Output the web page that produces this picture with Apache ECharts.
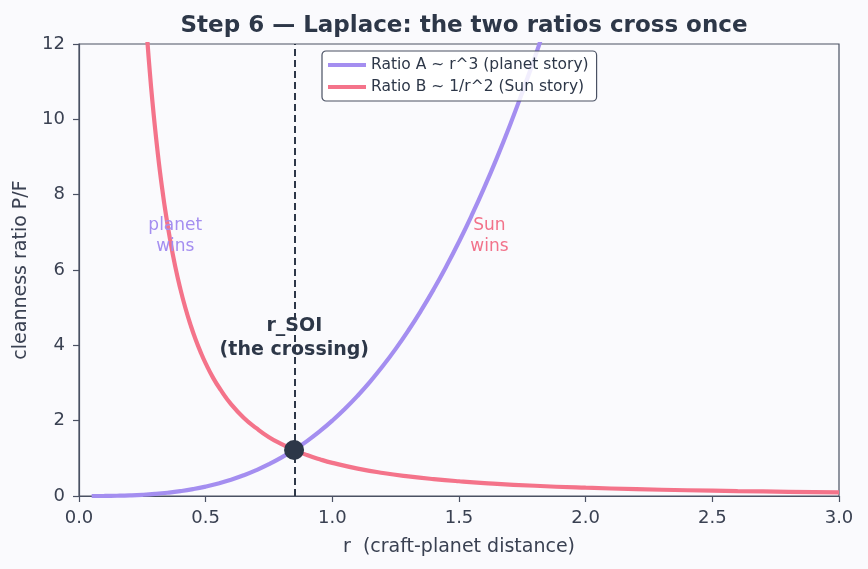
<!DOCTYPE html>
<html><head><meta charset="utf-8">
<script src="https://cdn.jsdelivr.net/npm/echarts@6/dist/echarts.min.js"></script>
<style>html,body{margin:0;padding:0;background:#fafafd;}#c{width:868px;height:569px;}</style>
</head><body><div id="c"></div>
<script>
// Ratio A ~ r^3 (planet story)
const rA = [0.05,0.1,0.15,0.2,0.25,0.3,0.35,0.4,0.45,0.5,0.55,0.6,0.65,0.7,0.75,0.8,0.85,0.9,0.95,1.0,1.05,1.1,1.15,1.2,1.25,1.3,1.35,1.4,1.45,1.5,1.55,1.6,1.65,1.7,1.75,1.8,1.85];
const ratioA = [0.0003,0.002,0.007,0.016,0.031,0.054,0.086,0.128,0.182,0.25,0.333,0.432,0.549,0.686,0.844,1.024,1.228,1.458,1.715,2.0,2.315,2.662,3.042,3.456,3.906,4.394,4.921,5.488,6.097,6.75,7.448,8.192,8.984,9.826,10.72,11.66,12.66];
// Ratio B ~ 1/r^2 (Sun story)
const rB = [0.25,0.26,0.27,0.28,0.29,0.3,0.31,0.32,0.33,0.34,0.36,0.38,0.4,0.42,0.44,0.46,0.48,0.5,0.53,0.56,0.6,0.65,0.7,0.75,0.8,0.85,0.9,0.95,1.0,1.1,1.2,1.3,1.4,1.5,1.6,1.8,2.0,2.2,2.4,2.6,2.8,3.0];
const ratioB = [14.08,13.02,12.07,11.22,10.46,9.78,9.16,8.59,8.08,7.61,6.79,6.09,5.50,4.99,4.55,4.16,3.82,3.52,3.13,2.81,2.44,2.08,1.80,1.56,1.375,1.218,1.086,0.975,0.88,0.727,0.611,0.521,0.449,0.391,0.344,0.272,0.22,0.182,0.153,0.130,0.112,0.098];
const crossing = [0.849, 1.222];
const xTicks = {min:0, max:3, interval:0.5};
const yTicks = {min:0, max:12, interval:2};
const notes = [
  {x:0.38, y:6.9, text:'planet\nwins', color:'#a48ef0', bold:false},
  {x:1.62, y:6.9, text:'Sun\nwins', color:'#f2728a', bold:false},
  {x:0.85, y:4.2, text:'r_SOI\n(the crossing)', color:'#2d3748', bold:true}
];

const FONT = 'DejaVu Sans';
const DARK = '#2d3748';
const AXIS = '#4a5163';
const TXT = '#3a4152';
const PURPLE = '#a48ef0';
const RED = '#f4738a';

const chart = echarts.init(document.getElementById('c'));
chart.setOption({
  backgroundColor: '#fafafd',
  animation: false,
  textStyle: {fontFamily: FONT},
  title: {
    text: 'Step 6 — Laplace: the two ratios cross once',
    left: 459, top: 10, textAlign: 'center',
    textStyle: {fontFamily: FONT, fontSize: 23, fontWeight: 'bold', color: DARK}
  },
  grid: {left: 79, right: 29, top: 44, bottom: 73, show: true, borderColor: AXIS, borderWidth: 1.2, backgroundColor: 'transparent'},
  legend: {
    orient: 'vertical', left: 322, top: 51,
    padding: [6, 8, 6, 6], itemGap: 6,
    itemWidth: 38, itemHeight: 4, icon: 'rect',
    borderColor: AXIS, borderWidth: 1.2, borderRadius: 4,
    backgroundColor: 'rgba(255,255,255,0.85)',
    textStyle: {fontFamily: FONT, fontSize: 15.5, color: DARK},
    data: ['Ratio A ~ r^3 (planet story)', 'Ratio B ~ 1/r^2 (Sun story)']
  },
  xAxis: {
    type: 'value', min: xTicks.min, max: xTicks.max, interval: xTicks.interval,
    name: 'r  (craft-planet distance)', nameLocation: 'middle', nameGap: 42,
    nameTextStyle: {fontFamily: FONT, fontSize: 19, color: TXT},
    axisLine: {show: true, onZero: false, lineStyle: {color: AXIS, width: 1.2}},
    axisTick: {show: true, length: 6, lineStyle: {color: AXIS, width: 1.2}},
    axisLabel: {fontFamily: FONT, fontSize: 18, color: TXT, margin: 13, formatter: v => v.toFixed(1)},
    splitLine: {show: false}
  },
  yAxis: {
    type: 'value', min: yTicks.min, max: yTicks.max, interval: yTicks.interval,
    name: 'cleanness ratio P/F', nameLocation: 'middle', nameGap: 48,
    nameTextStyle: {fontFamily: FONT, fontSize: 19, color: TXT},
    axisLine: {show: true, onZero: false, lineStyle: {color: AXIS, width: 1.2}},
    axisTick: {show: true, length: 6, lineStyle: {color: AXIS, width: 1.2}},
    axisLabel: {fontFamily: FONT, fontSize: 18, color: TXT, margin: 14},
    splitLine: {show: false}
  },
  series: [
    {
      name: 'Ratio A ~ r^3 (planet story)', type: 'line', smooth: true,
      showSymbol: false, symbol: 'none', clip: true, z: 3,
      lineStyle: {color: PURPLE, width: 4.2}, itemStyle: {color: PURPLE},
      data: rA.map((r, i) => [r, ratioA[i]])
    },
    {
      name: 'Ratio B ~ 1/r^2 (Sun story)', type: 'line', smooth: true,
      showSymbol: false, symbol: 'none', clip: true, z: 3,
      lineStyle: {color: RED, width: 4.2}, itemStyle: {color: RED},
      data: rB.map((r, i) => [r, ratioB[i]]),
      markLine: {
        silent: true, symbol: ['none', 'none'], label: {show: false},
        lineStyle: {color: DARK, type: [7, 4], width: 2},
        data: [{xAxis: crossing[0]}]
      }
    },
    {
      name: 'crossing', type: 'scatter', z: 5,
      symbolSize: 20, itemStyle: {color: DARK, opacity: 1},
      data: [crossing]
    },
    {
      name: 'notes', type: 'scatter', z: 6, symbolSize: 0, silent: true,
      itemStyle: {opacity: 1},
      data: notes.map(n => ({
        value: [n.x, n.y],
        label: {
          show: true, position: 'inside', formatter: n.text,
          fontFamily: FONT, fontSize: n.bold ? 19 : 17, lineHeight: n.bold ? 24 : 21,
          fontWeight: n.bold ? 'bold' : 'normal', color: n.color, align: 'center'
        }
      }))
    }
  ]
});
</script></body></html>
